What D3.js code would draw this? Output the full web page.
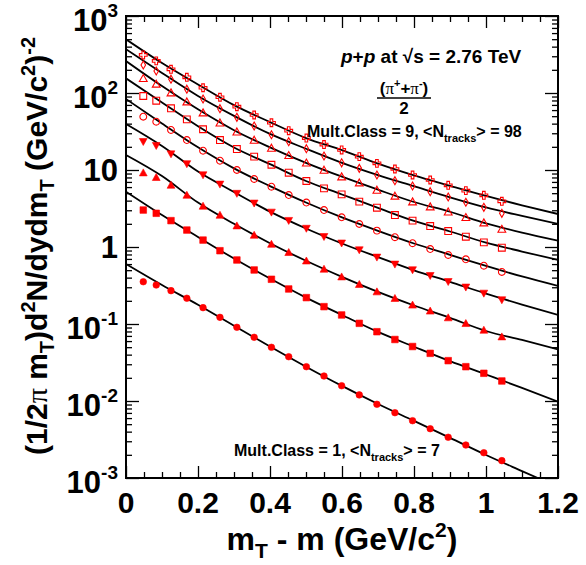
<!DOCTYPE html>
<html>
<head>
<meta charset="utf-8">
<script src="https://cdn.jsdelivr.net/npm/d3@7"></script>
<style>
  html, body { margin: 0; padding: 0; background: #fff; }
  svg text { font-family: "Liberation Sans", Arial, Helvetica, sans-serif; font-weight: bold; fill: #000; }
</style>
</head>
<body>
<svg id="chart" width="586" height="565"></svg>
<script>
// m_T - m bin centres (GeV/c^2)
const mtBins = [0.048, 0.084, 0.125, 0.169, 0.214, 0.261, 0.308, 0.356, 0.404, 0.452, 0.501,
                0.550, 0.599, 0.648, 0.697, 0.747, 0.796, 0.845, 0.895, 0.944, 0.994, 1.044];

// Invariant yields of (pi+ + pi-)/2 per multiplicity class
const class1 = [0.354, 0.321, 0.271, 0.216, 0.163, 0.122, 0.0906, 0.0672, 0.0498, 0.0376, 0.0279,
                0.0211, 0.0158, 0.0120, 0.00906, 0.00705, 0.00555, 0.00437, 0.00338, 0.00268, 0.00213, 0.00168];
const class2 = [3.02, 2.74, 2.20, 1.66, 1.23, 0.895, 0.678, 0.503, 0.381, 0.285, 0.220,
                0.168, 0.131, 0.102, 0.0794, 0.0629, 0.0510, 0.0416, 0.0334, 0.0279, 0.0229, 0.0182];
const class3 = [9.23, 8.04, 6.38, 4.73, 3.41, 2.60, 1.89, 1.43, 1.09, 0.853, 0.662,
                0.518, 0.411, 0.328, 0.263, 0.216, 0.177, 0.148, 0.121, 0.102, 0.0836, 0.0684];
const class4 = [23.3, 20.7, 16.1, 12.0, 8.61, 6.52, 4.95, 3.70, 2.82, 2.20, 1.74,
                1.36, 1.12, 0.914, 0.735, 0.596, 0.503, 0.424, 0.354, 0.300, 0.250, 0.205];
const class5 = [49.2, 42.4, 33.1, 24.5, 17.8, 13.2, 10.0, 7.64, 6.07, 4.73, 3.78,
                3.02, 2.43, 1.99, 1.63, 1.34, 1.12, 0.94, 0.787, 0.692, 0.572, 0.474];
const class6 = [91.4, 79.4, 63.3, 45.5, 33.8, 24.5, 18.7, 14.9, 11.7, 9.23, 7.20,
                5.78, 4.83, 3.88, 3.24, 2.60, 2.20, 1.87, 1.61, 1.36, 1.15, 0.98];
const class7 = [155, 131, 101, 77.1, 55.5, 41.1, 31.4, 24.5, 19.3, 15.5, 12.4,
                10.0, 8.19, 6.84, 5.50, 4.60, 3.88, 3.34, 2.87, 2.43, 2.07, 1.71];
const class8 = [231, 193, 151, 112, 83.6, 62.5, 48.3, 37.3, 28.7, 23.3, 18.9,
                15.2, 12.4, 10.5, 8.61, 7.26, 6.20, 5.23, 4.46, 3.81, 3.28, 2.74];
const class9 = [312, 261, 203, 160, 117, 88, 66.4, 51.8, 41.1, 32.4, 26.0,
                21.4, 18.2, 14.9, 12.2, 10.3, 8.61, 7.41, 6.33, 5.39, 4.69, 3.92];

// Fit curves, sampled on a regular m_T - m grid
const fitX = [0, 0.1, 0.2, 0.3, 0.4, 0.5, 0.6, 0.7, 0.8, 0.9, 1.0, 1.1, 1.2];
const fit1 = [0.601, 0.321, 0.178, 0.0951, 0.0510, 0.0279, 0.0157, 0.00914, 0.00552, 0.00332, 0.00199, 0.00123, 0.000764];
const fit2 = [5.23, 2.60, 1.35, 0.709, 0.389, 0.220, 0.131, 0.0789, 0.0507, 0.0329, 0.0221, 0.0148, 0.00979];
const fit3 = [15.7, 8.36, 3.77, 2.00, 1.12, 0.662, 0.409, 0.261, 0.174, 0.120, 0.0811, 0.0620, 0.0469];
const fit4 = [39.6, 20.5, 9.53, 5.18, 2.88, 1.74, 1.11, 0.739, 0.498, 0.353, 0.248, 0.179, 0.131];
const fit5 = [83.6, 40.2, 19.7, 10.5, 6.18, 3.78, 2.42, 1.62, 1.11, 0.792, 0.567, 0.414, 0.312];
const fit6 = [155, 75.3, 37.0, 19.6, 11.9, 7.20, 4.81, 3.22, 2.18, 1.59, 1.14, 0.874, 0.678];
const fit7 = [260, 123, 61.4, 32.9, 19.7, 12.4, 8.18, 5.55, 3.84, 2.87, 2.03, 1.54, 1.21];
const fit8 = [370, 182, 91.4, 50.4, 29.4, 18.9, 12.4, 8.59, 6.16, 4.42, 3.26, 2.53, 1.99];
const fit9 = [498, 245, 129, 69.5, 41.9, 26.0, 18.1, 12.1, 8.51, 6.23, 4.60, 3.48, 2.68];

// Marker style per class (ROOT styles 20..28)
const markerStyles = ["fcircle", "fsquare", "ftriup", "ftridown", "ocircle", "osquare", "otriup", "odiamond", "ocross"];

// Axis ticks
const xTickValues = [0, 0.2, 0.4, 0.6, 0.8, 1.0, 1.2];
const xTickLabels = ["0", "0.2", "0.4", "0.6", "0.8", "1", "1.2"];
const yTickValues = [1e-3, 1e-2, 1e-1, 1, 10, 1e2, 1e3];
const yTickBase = ["10", "10", "10", "1", "10", "10", "10"];
const yTickExp = ["-3", "-2", "-1", "", "", "2", "3"];

const svg = d3.select("#chart");
const L = 126, R = 558, T = 16, B = 478;
const x = d3.scaleLinear().domain([0, 1.2]).range([L, R]);
const y = d3.scaleLog().domain([1e-3, 1e3]).range([B, T]);

svg.append("defs").append("clipPath").attr("id", "plotClip")
  .append("rect").attr("x", L).attr("y", T).attr("width", R - L).attr("height", B - T);

// Ticks (all drawn inward on the four sides)
const minorX = d3.range(0, 1.2001, 0.05).filter(v => Math.abs(v / 0.2 - Math.round(v / 0.2)) > 1e-6);
const yAll = y.ticks();
const yMinor = yAll.filter(v => Math.abs(Math.log10(v) - Math.round(Math.log10(v))) > 1e-6);

function tickAxis(axisFn, scale, vals, size, tx, ty) {
  const g = svg.append("g").attr("transform", `translate(${tx},${ty})`)
    .call(axisFn(scale).tickValues(vals).tickSize(size).tickFormat(""));
  g.select(".domain").remove();
  g.selectAll("line").attr("stroke", "#000").attr("stroke-width", 1.3);
}
tickAxis(d3.axisBottom, x, xTickValues, -12, 0, B);
tickAxis(d3.axisBottom, x, minorX, -6, 0, B);
tickAxis(d3.axisTop, x, xTickValues, -12, 0, T);
tickAxis(d3.axisTop, x, minorX, -6, 0, T);
tickAxis(d3.axisLeft, y, yTickValues, -13, L, 0);
tickAxis(d3.axisLeft, y, yMinor, -6, L, 0);
tickAxis(d3.axisRight, y, yTickValues, -13, R, 0);
tickAxis(d3.axisRight, y, yMinor, -6, R, 0);

// Fit curves
const line = d3.line()
  .x(d => x(d[0]))
  .y(d => y(d[1]))
  .curve(d3.curveMonotoneX);
const fits = [fit1, fit2, fit3, fit4, fit5, fit6, fit7, fit8, fit9];
svg.append("g").attr("clip-path", "url(#plotClip)")
  .selectAll("path").data(fits).join("path")
  .attr("d", f => line(fitX.map((xv, i) => [xv, f[i]])))
  .attr("fill", "none").attr("stroke", "#000").attr("stroke-width", 1.8);

// Marker shapes
function markerPath(style) {
  switch (style) {
    case "fcircle": return d3.symbol(d3.symbolCircle, Math.PI * 3.3 * 3.3)();
    case "ocircle": return d3.symbol(d3.symbolCircle, Math.PI * 3.4 * 3.4)();
    case "fsquare": return "M-3.3,-3.3H3.3V3.3H-3.3Z";
    case "osquare": return "M-3.4,-3.4H3.4V3.4H-3.4Z";
    case "ftriup": return "M0,-3.8L3.9,3.2L-3.9,3.2Z";
    case "otriup": return "M0,-3.8L3.9,3.2L-3.9,3.2Z";
    case "ftridown": return "M0,3.8L3.9,-3.2L-3.9,-3.2Z";
    case "odiamond": return "M0,-4L2.3,0L0,4L-2.3,0Z";
    case "ocross": {
      const a = 1.3, b = 3.9;
      return `M${-a},${-b}H${a}V${-a}H${b}V${a}H${a}V${b}H${-a}V${a}H${-b}V${-a}H${-a}Z`;
    }
  }
}

const classes = [class1, class2, class3, class4, class5, class6, class7, class8, class9];
classes.forEach((vals, k) => {
  const style = markerStyles[k];
  const filled = style[0] === "f";
  svg.append("g").selectAll("path").data(vals).join("path")
    .attr("transform", (v, i) => `translate(${x(mtBins[i])},${y(v)})`)
    .attr("d", markerPath(style))
    .attr("fill", filled ? "#ff0000" : "none")
    .attr("stroke", "#ff0000")
    .attr("stroke-width", filled ? 0.6 : 1.1);
});

// Frame
svg.append("rect").attr("x", L).attr("y", T).attr("width", R - L).attr("height", B - T)
  .attr("fill", "none").attr("stroke", "#000").attr("stroke-width", 2);

// X tick labels
svg.append("g").selectAll("text").data(xTickValues).join("text")
  .attr("x", d => x(d)).attr("y", 513)
  .attr("text-anchor", "middle").attr("font-size", 30)
  .text((d, i) => xTickLabels[i]);

// Y tick labels
const yl = svg.append("g").selectAll("text").data(yTickValues).join("text")
  .attr("x", 118)
  .attr("y", (d, i) => y(d) + (yTickExp[i] ? 15 : 11))
  .attr("text-anchor", "end").attr("font-size", 31);
yl.append("tspan").text((d, i) => yTickBase[i]);
yl.filter((d, i) => yTickExp[i] !== "")
  .append("tspan").attr("dy", -14).attr("font-size", 19)
  .text((d) => yTickExp[yTickValues.indexOf(d)]);

// X axis title
const xt = svg.append("text").attr("x", 342).attr("y", 550)
  .attr("text-anchor", "middle").attr("font-size", 32);
xt.append("tspan").text("m");
xt.append("tspan").attr("dy", 8).attr("font-size", 21).text("T");
xt.append("tspan").attr("dy", -8).text(" - m (GeV/c");
xt.append("tspan").attr("dy", -13).attr("font-size", 21).text("2");
xt.append("tspan").attr("dy", 13).text(")");

// Y axis title
const yt = svg.append("text").attr("transform", "translate(47,246) rotate(-90)")
  .attr("text-anchor", "middle").attr("font-size", 30);
yt.append("tspan").text("(1/2");
yt.append("tspan").style("font-family", "'Liberation Serif', 'Times New Roman', serif").style("font-weight", "normal").text("π");
yt.append("tspan").text(" m");
yt.append("tspan").attr("dy", 7).attr("font-size", 20).text("T");
yt.append("tspan").attr("dy", -7).text(")d");
yt.append("tspan").attr("dy", -12).attr("font-size", 20).text("2");
yt.append("tspan").attr("dy", 12).text("N/dydm");
yt.append("tspan").attr("dy", 7).attr("font-size", 20).text("T");
yt.append("tspan").attr("dy", -7).text(" (GeV/c");
yt.append("tspan").attr("dy", -12).attr("font-size", 20).text("2");
yt.append("tspan").attr("dy", 12).text(")");
yt.append("tspan").attr("dy", -12).attr("font-size", 20).text("-2");

// Collision system label
const sys = svg.append("text").attr("x", 341).attr("y", 63).attr("font-size", 19);
sys.append("tspan").attr("font-style", "italic").text("p");
sys.append("tspan").text("+");
sys.append("tspan").attr("font-style", "italic").text("p");
sys.append("tspan").text(" at  √s = 2.76 TeV");

// Particle label as a fraction
const num = svg.append("text").attr("x", 404).attr("y", 94).attr("text-anchor", "middle").attr("font-size", 17);
const serif = "'Liberation Serif', 'Times New Roman', serif";
num.append("tspan").text("(");
num.append("tspan").style("font-family", serif).style("font-weight", "normal").text("π");
num.append("tspan").attr("dy", -7).attr("font-size", 11).text("+");
num.append("tspan").attr("dy", 7).text("+");
num.append("tspan").style("font-family", serif).style("font-weight", "normal").text("π");
num.append("tspan").attr("dy", -7).attr("font-size", 11).text("-");
num.append("tspan").attr("dy", 7).text(")");
svg.append("line").attr("x1", 377).attr("x2", 431).attr("y1", 98).attr("y2", 98)
  .attr("stroke", "#000").attr("stroke-width", 1.5);
svg.append("text").attr("x", 404).attr("y", 114).attr("text-anchor", "middle").attr("font-size", 17).text("2");

// Multiplicity class labels
function multLabel(xp, yp, cls, n) {
  const t = svg.append("text").attr("x", xp).attr("y", yp).attr("font-size", 16);
  t.append("tspan").text(`Mult.Class = ${cls}, <N`);
  t.append("tspan").attr("dy", 5).attr("font-size", 11).text("tracks");
  t.append("tspan").attr("dy", -5).text(`> = ${n}`);
}
multLabel(307, 137, 9, 98);
multLabel(234, 456, 1, 7);
</script>
</body>
</html>
